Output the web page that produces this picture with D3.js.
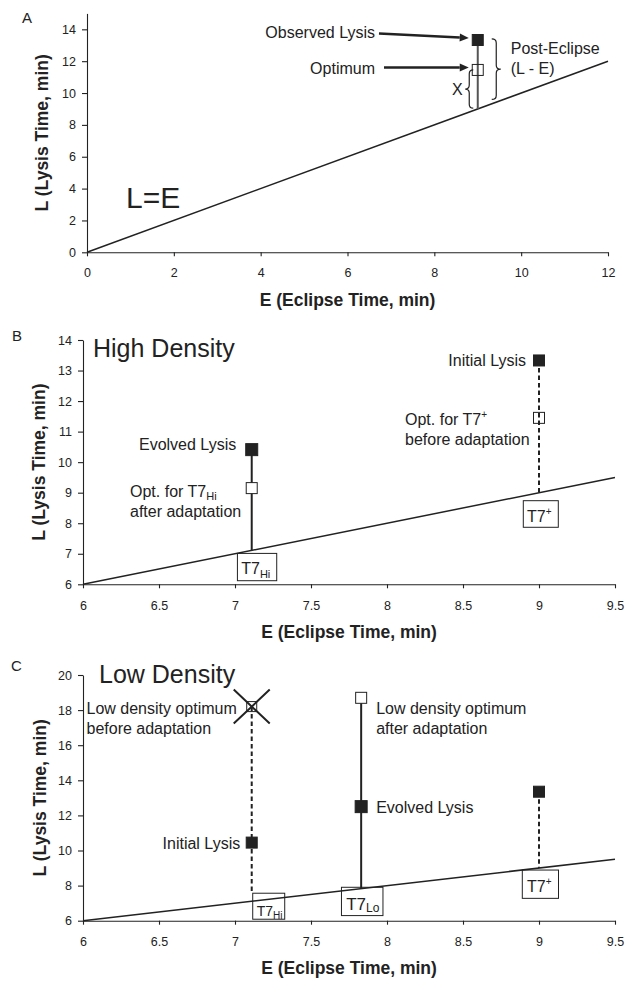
<!DOCTYPE html>
<html><head><meta charset="utf-8">
<script src="https://cdn.jsdelivr.net/npm/d3@7"></script>
<style>body{margin:0;background:#fff}</style>
</head><body>
<svg id="chart" width="638" height="991"></svg>
<script>
// ---------- data ----------
const panelLabels = ["A", "B", "C"];
const xTitle = "E (Eclipse Time, min)";
const yTitle = "L (Lysis Time, min)";

// Panel A
const aXTicks = [0, 2, 4, 6, 8, 10, 12];
const aYTicks = [0, 2, 4, 6, 8, 10, 12, 14];
const aXDomain = [0, 12];
const aYDomain = [0, 15];
const aEclipse = 9;
const aObservedLysis = 13.33;
const aOptimum = 11.45;
const aBraceX = [11.45, 9.05];
const aBracePost = [13.4, 9.6];

// Panel B (high density)
const bXTicks = [6, 6.5, 7, 7.5, 8, 8.5, 9, 9.5];
const bYTicks = [6, 7, 8, 9, 10, 11, 12, 13, 14];
const bXDomain = [6, 9.5];
const bYDomain = [6, 14];
const bEclipse = [7.11, 9];        // T7Hi, T7+
const bLysis = [10.41, 13.33];     // evolved (T7Hi), initial (T7+)
const bOptimum = [9.15, 11.45];

// Panel C (low density)
const cXTicks = [6, 6.5, 7, 7.5, 8, 8.5, 9, 9.5];
const cYTicks = [6, 8, 10, 12, 14, 16, 18, 20];
const cXDomain = [6, 9.5];
const cYDomain = [6, 20];
const cEclipse = [7.11, 7.83, 9];  // T7Hi, T7Lo, T7+
const cLysis = [10.45, 12.5, 13.35];
const cOptimum = [18.2, 18.7];

// ---------- drawing ----------
const FONT = "'Liberation Sans', Arial, Helvetica, sans-serif";
const INK = "#222";
const svg = d3.select("#chart").attr("font-family", FONT);

function axes(g, x, y, xt, yt, pad) {
  const ax = g.append("g").attr("transform", `translate(0,${y.range()[0]})`)
    .call(d3.axisBottom(x).tickValues(xt).tickSize(4).tickSizeOuter(0).tickPadding(pad).tickFormat(d => String(d)));
  const ay = g.append("g").attr("transform", `translate(${x.range()[0]},0)`)
    .call(d3.axisLeft(y).tickValues(yt).tickSize(5).tickSizeOuter(0).tickPadding(6).tickFormat(d => String(d)));
  [ax, ay].forEach(a => {
    a.attr("font-family", FONT).attr("font-size", 12.5);
    a.selectAll("path,line").attr("stroke", INK).attr("stroke-width", 1.1);
    a.selectAll("text").attr("fill", INK);
  });
}
function titles(g, x, y, xBase, yBase) {
  const xr = x.range(), yr = y.range();
  g.append("text").attr("x", (xr[0] + xr[1]) / 2).attr("y", xBase).attr("text-anchor", "middle")
    .attr("font-weight", "bold").attr("font-size", 17.5).attr("fill", INK).text(xTitle);
  const cy = (yr[0] + yr[1]) / 2;
  g.append("text").attr("transform", `translate(${yBase},${cy}) rotate(-90)`).attr("text-anchor", "middle")
    .attr("font-weight", "bold").attr("font-size", 17.5).attr("fill", INK).text(yTitle);
}
function identityLine(g, x, y, dom) {
  g.append("path").datum(dom).attr("fill", "none").attr("stroke", INK).attr("stroke-width", 1.5)
    .attr("d", d3.line().x(d => x(d)).y(d => y(d)));
}
function vline(g, x, y1, y2, dashed, color) {
  g.append("line").attr("x1", x).attr("x2", x).attr("y1", y1).attr("y2", y2)
    .attr("stroke", color || INK).attr("stroke-width", 2)
    .attr("stroke-dasharray", dashed ? "4.5,3" : null);
}
function square(g, cx, cy, filled, s) {
  s = s || 11;
  g.append("rect").attr("x", cx - s / 2).attr("y", cy - s / 2).attr("width", s).attr("height", s)
    .attr("fill", filled ? INK : "none").attr("stroke", INK).attr("stroke-width", 1);
}
function rich(g, x, y, parts, anchor, size) {
  const t = g.append("text").attr("x", x).attr("y", y).attr("text-anchor", anchor || "start")
    .attr("font-size", size || 16).attr("fill", INK);
  let cur = 0;
  parts.forEach(p => {
    const sh = p.shift || 0;
    const ts = t.append("tspan").text(p.t).attr("dy", sh - cur);
    if (p.size) ts.attr("font-size", p.size);
    cur = sh;
  });
  return t;
}
function box(g, x1, y1, x2, y2) {
  g.append("rect").attr("x", x1).attr("y", y1).attr("width", x2 - x1).attr("height", y2 - y1)
    .attr("fill", "none").attr("stroke", INK).attr("stroke-width", 1);
}
function arrow(g, x1, y1, x2, y2) {
  const a = Math.atan2(y2 - y1, x2 - x1), L = 9, W = 4;
  const bx = x2 - L * Math.cos(a), by = y2 - L * Math.sin(a);
  g.append("line").attr("x1", x1).attr("y1", y1).attr("x2", bx).attr("y2", by)
    .attr("stroke", INK).attr("stroke-width", 2.6);
  g.append("path").attr("fill", INK)
    .attr("d", `M${x2},${y2}L${bx - W * Math.sin(a)},${by + W * Math.cos(a)}L${bx + W * Math.sin(a)},${by - W * Math.cos(a)}Z`);
}
// vertical curly brace: back at xb, ends at xb - dir*w/2, tip at xb + dir*w/2
function brace(g, xb, y1, y2, w, dir) {
  const ym = (y1 + y2) / 2, r = 4, e = xb - dir * w / 2, tip = xb + dir * w / 2;
  const d = `M${e},${y1}Q${xb},${y1} ${xb},${y1 + r}L${xb},${ym - r}Q${xb},${ym} ${tip},${ym}` +
            `Q${xb},${ym} ${xb},${ym + r}L${xb},${y2 - r}Q${xb},${y2} ${e},${y2}`;
  g.append("path").attr("d", d).attr("fill", "none").attr("stroke", INK).attr("stroke-width", 1.2);
}
function panelLabel(g, x, y, s) {
  g.append("text").attr("x", x).attr("y", y).attr("font-size", 15).attr("fill", INK).text(s);
}

// ===== Panel A =====
{
  const g = svg.append("g");
  const x = d3.scaleLinear().domain(aXDomain).range([87, 608]);
  const y = d3.scaleLinear().domain(aYDomain).range([252.3, 13.4]);
  axes(g, x, y, aXTicks, aYTicks, 12);
  titles(g, x, y, 306, 48);
  panelLabel(g, 22, 23, panelLabels[0]);
  identityLine(g, x, y, aXDomain);
  g.append("text").attr("x", 126).attr("y", 208).attr("font-size", 30).attr("fill", INK).text("L=E");
  const xe = x(aEclipse), yo = y(aObservedLysis), yp = y(aOptimum);
  vline(g, xe, yo, y(aEclipse), false, "#555");
  square(g, xe, yo, true);
  square(g, xe, yp, false);
  rich(g, 375, yo - 1.5, [{t: "Observed Lysis"}], "end");
  rich(g, 375, yp + 3.6, [{t: "Optimum"}], "end");
  arrow(g, 379, yo - 6.5, xe - 9, yo - 2);
  arrow(g, 384, yp - 2.5, xe - 9, yp - 2.5);
  brace(g, xe - 8.5, y(aBraceX[0]), y(aBraceX[1]), 8, -1);
  const ymX = (y(aBraceX[0]) + y(aBraceX[1])) / 2;
  rich(g, xe - 20.5, ymX + 6, [{t: "X"}], "middle");
  brace(g, xe + 18.5, y(aBracePost[0]), y(aBracePost[1]), 9, 1);
  rich(g, xe + 33, 54, [{t: "Post-Eclipse"}]);
  rich(g, xe + 33, 74, [{t: "(L - E)"}]);
}

// ===== Panel B =====
{
  const g = svg.append("g");
  const x = d3.scaleLinear().domain(bXDomain).range([83, 615]);
  const y = d3.scaleLinear().domain(bYDomain).range([584.3, 340]);
  axes(g, x, y, bXTicks, bYTicks, 13);
  titles(g, x, y, 638, 45);
  panelLabel(g, 12, 341, panelLabels[1]);
  identityLine(g, x, y, bXDomain);
  g.append("text").attr("x", 93).attr("y", 357).attr("font-size", 25).attr("fill", INK).text("High Density");

  // T7Hi
  const xh = x(bEclipse[0]);
  vline(g, xh, y(bLysis[0]), y(bEclipse[0]), false);
  square(g, xh, y(bLysis[0]), true, 12);
  g.append("rect").attr("x", xh - 5.5).attr("y", y(bOptimum[0]) - 5.5).attr("width", 11).attr("height", 11).attr("fill", "#fff");
  square(g, xh, y(bOptimum[0]), false);
  rich(g, xh - 15.5, y(bLysis[0]) + 0.5, [{t: "Evolved Lysis"}], "end");
  rich(g, 130, y(bOptimum[0]) + 8.5, [{t: "Opt. for T7"}, {t: "Hi", size: 11, shift: 3.5}]);
  rich(g, 130, y(bOptimum[0]) + 29, [{t: "after adaptation"}]);
  box(g, xh - 14.3, y(bEclipse[0]) + 3, xh + 25, y(bEclipse[0]) + 30.3);
  rich(g, xh - 10.5, y(bEclipse[0]) + 24, [{t: "T7"}, {t: "Hi", size: 11, shift: 3.5}]);

  // T7+
  const xp = x(bEclipse[1]);
  vline(g, xp, y(bLysis[1]), y(bEclipse[1]), true);
  square(g, xp, y(bLysis[1]), true);
  square(g, xp, y(bOptimum[1]), false);
  rich(g, xp - 13, y(bLysis[1]) + 6, [{t: "Initial Lysis"}], "end");
  rich(g, xp - 134, y(bOptimum[1]) + 7.5, [{t: "Opt. for T7"}, {t: "+", size: 10, shift: -7}]);
  rich(g, xp - 134, y(bOptimum[1]) + 27, [{t: "before adaptation"}]);
  box(g, xp - 15.7, y(bEclipse[1]) + 8, xp + 19.3, y(bEclipse[1]) + 34.6);
  rich(g, xp - 12, y(bEclipse[1]) + 29.5, [{t: "T7"}, {t: "+", size: 10, shift: -7}]);
}

// ===== Panel C =====
{
  const g = svg.append("g");
  const x = d3.scaleLinear().domain(cXDomain).range([83, 615]);
  const y = d3.scaleLinear().domain(cYDomain).range([920.7, 675]);
  axes(g, x, y, cXTicks, cYTicks, 12);
  titles(g, x, y, 974, 46);
  panelLabel(g, 11, 671, panelLabels[2]);
  identityLine(g, x, y, cXDomain);
  g.append("text").attr("x", 99).attr("y", 683.3).attr("font-size", 25).attr("fill", INK).text("Low Density");

  // T7Hi
  const xh = x(cEclipse[0]);
  vline(g, xh, y(cOptimum[0]), y(cEclipse[0]) - 8, true);
  square(g, xh, y(cLysis[0]), true);
  square(g, xh, y(cOptimum[0]), false, 10);
  const yx = y(cOptimum[0]);
  g.append("path").attr("d", `M${xh - 18},${yx - 17}L${xh + 18},${yx + 17}M${xh - 18},${yx + 17}L${xh + 18},${yx - 17}`)
    .attr("stroke", INK).attr("stroke-width", 2).attr("fill", "none");
  rich(g, 86.5, 714, [{t: "Low density optimum"}]);
  rich(g, 86.5, 733.5, [{t: "before adaptation"}]);
  rich(g, xh - 11.5, y(cLysis[0]) + 6, [{t: "Initial Lysis"}], "end");
  box(g, xh + 1, y(cEclipse[0]) - 8, xh + 33, y(cEclipse[0]) + 18);
  rich(g, xh + 5, y(cEclipse[0]) + 14.5, [{t: "T7"}, {t: "Hi", size: 10, shift: 3}], "start", 14);

  // T7Lo
  const xl = x(cEclipse[1]);
  vline(g, xl, y(cOptimum[1]), y(cEclipse[1]), false);
  square(g, xl, y(cLysis[1]), true, 12);
  g.append("rect").attr("x", xl - 5.5).attr("y", y(cOptimum[1]) - 5.5).attr("width", 11).attr("height", 11).attr("fill", "#fff");
  square(g, xl, y(cOptimum[1]), false);
  rich(g, xl + 15, 714, [{t: "Low density optimum"}]);
  rich(g, xl + 15, 733.5, [{t: "after adaptation"}]);
  rich(g, xl + 15, y(cLysis[1]) + 6, [{t: "Evolved Lysis"}]);
  box(g, xl - 19.7, y(cEclipse[1]) - 1.3, xl + 21.8, y(cEclipse[1]) + 27);
  rich(g, xl - 15, y(cEclipse[1]) + 21, [{t: "T7"}, {t: "Lo", size: 12, shift: 2}], "start", 17);

  // T7+
  const xp = x(cEclipse[2]);
  vline(g, xp, y(cLysis[2]), y(cEclipse[2]), true);
  square(g, xp, y(cLysis[2]), true);
  box(g, xp - 16.7, y(cEclipse[2]) + 2, xp + 19.5, y(cEclipse[2]) + 30.3);
  rich(g, xp - 12, y(cEclipse[2]) + 24, [{t: "T7"}, {t: "+", size: 10, shift: -7}]);
}
</script>
</body></html>
